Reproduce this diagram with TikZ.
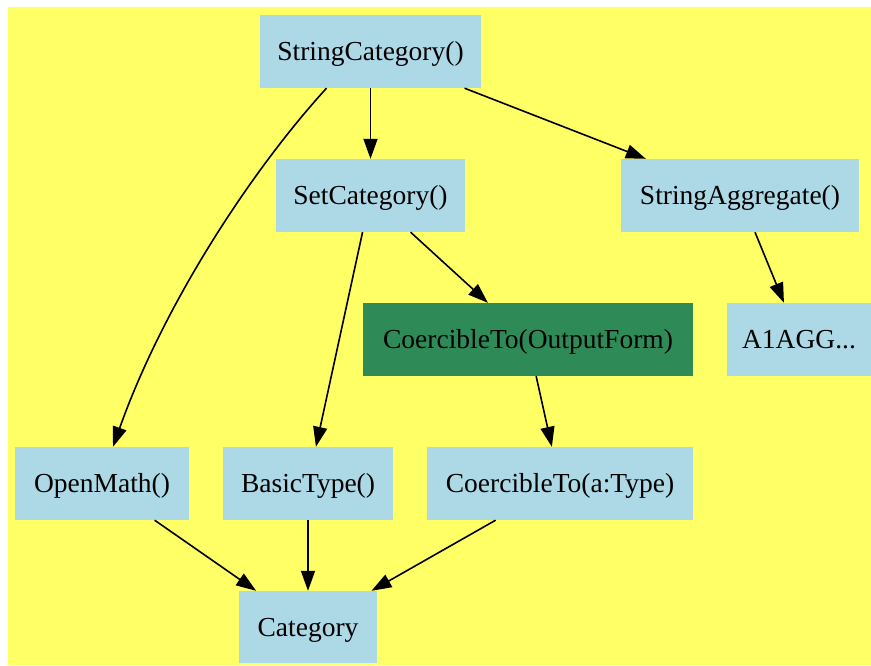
\documentclass[tikz,border=0pt]{standalone}
\usepackage{fontspec}
\setmainfont{Liberation Serif}
\usetikzlibrary{arrows.meta}
\definecolor{bgyellow}{HTML}{FFFF66}
\definecolor{boxblue}{HTML}{ADD8E6}
\definecolor{boxgreen}{HTML}{2E8B57}
\begin{document}
\begin{tikzpicture}[x=1pt,y=-1pt,
  box/.style={draw=none,fill=boxblue,inner sep=0pt,minimum height=73pt,text height=18.5pt,text depth=0pt,font=\fontsize{27.5}{33}\selectfont},
  greenbox/.style={box,fill=boxgreen},
  edge/.style={line width=1.6pt,-{Triangle[length=20pt,width=14pt]}}]
\useasboundingbox (0,0) rectangle (871,665);
\fill[bgyellow] (8,7) rectangle (871,665);
\node[box,minimum width=221pt] (sc) at (370.5,51.5) {StringCategory()};
\node[box,minimum width=189pt] (set) at (370.5,195.5) {SetCategory()};
\node[box,minimum width=238pt] (sa) at (740,195.5) {StringAggregate()};
\node[greenbox,minimum width=330pt] (cof) at (528,339.5) {CoercibleTo(OutputForm)};
\node[box,minimum width=144pt] (agg) at (799,339.5) {A1AGG...};
\node[box,minimum width=174pt] (om) at (102,483.5) {OpenMath()};
\node[box,minimum width=170pt] (bt) at (308,483.5) {BasicType()};
\node[box,minimum width=266pt] (cat) at (560,483.5) {CoercibleTo(a:Type)};
\node[box,minimum width=138pt,minimum height=72pt] (cg) at (308,627) {Category};
\draw[edge] (sc) -- (set);
\draw[edge] (sc) -- (sa);
\draw[edge] ([xshift=-44pt]sc.south) .. controls (250,172) and (163,306) .. ([xshift=11pt]om.north);
\draw[edge] (set) -- (bt);
\draw[edge] (set) -- (cof);
\draw[edge] (sa) -- (agg);
\draw[edge] (cof) -- (cat);
\draw[edge] (om) -- (cg);
\draw[edge] (bt) -- (cg);
\draw[edge] (cat) -- (cg);
\end{tikzpicture}
\end{document}
